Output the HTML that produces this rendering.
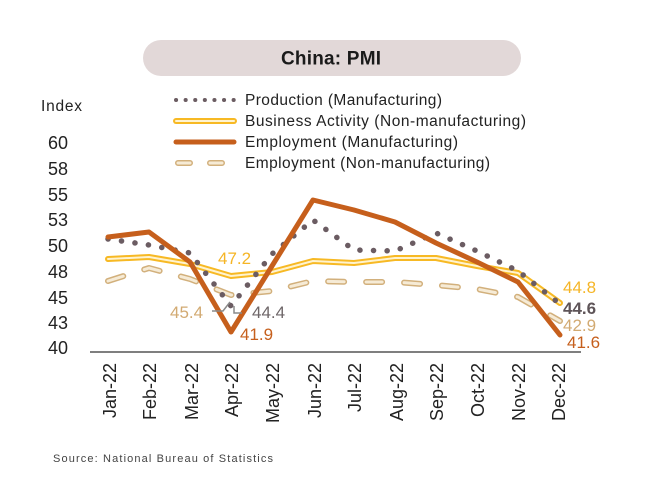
<!DOCTYPE html>
<html><head><meta charset="utf-8"><style>
html,body{margin:0;padding:0;background:#fff;}
svg{display:block;font-family:"Liberation Sans",sans-serif;}
</style></head><body>
<svg width="665" height="490" viewBox="0 0 665 490" xmlns="http://www.w3.org/2000/svg">
<rect width="665" height="490" fill="#fff"/>
<!-- title -->
<rect x="143" y="40" width="378" height="36" rx="18" fill="#e2d8d8"/>
<text x="331" y="64.5" text-anchor="middle" font-size="19" font-weight="bold" fill="#1a1a1a" textLength="100">China: PMI</text>
<!-- Index -->
<text x="41" y="111" font-size="15.5" fill="#222" textLength="41">Index</text>
<!-- legend -->
<line x1="176" y1="100" x2="234" y2="100" stroke="#6b5c62" stroke-width="4" stroke-linecap="round" stroke-dasharray="0.1 9.5"/>
<text x="245" y="105" font-size="15.5" fill="#222" textLength="197">Production (Manufacturing)</text>
<line x1="176" y1="121" x2="234" y2="121" stroke="#f7b924" stroke-width="6" stroke-linecap="round"/>
<line x1="176" y1="121" x2="234" y2="121" stroke="#fff3cf" stroke-width="2" stroke-linecap="round"/>
<text x="245" y="126" font-size="15.5" fill="#222" textLength="281">Business Activity (Non-manufacturing)</text>
<line x1="176" y1="142" x2="234" y2="142" stroke="#c65f1c" stroke-width="5" stroke-linecap="round"/>
<text x="245" y="147" font-size="15.5" fill="#222" textLength="213">Employment (Manufacturing)</text>
<line x1="178" y1="163" x2="226" y2="163" stroke="#d2b07c" stroke-width="6" stroke-linecap="round" stroke-dasharray="12 20"/>
<line x1="178" y1="163" x2="226" y2="163" stroke="#f6ebd6" stroke-width="3" stroke-linecap="round" stroke-dasharray="12 20"/>
<text x="245" y="168" font-size="15.5" fill="#222" textLength="245">Employment (Non-manufacturing)</text>
<!-- y labels -->
<g font-size="18" fill="#222" text-anchor="middle">
<text x="58" y="149">60</text>
<text x="58" y="175">58</text>
<text x="58" y="201">55</text>
<text x="58" y="226">53</text>
<text x="58" y="252">50</text>
<text x="58" y="278">48</text>
<text x="58" y="304">45</text>
<text x="58" y="329">43</text>
<text x="58" y="354">40</text>
</g>
<!-- axis -->
<line x1="90" y1="352" x2="581" y2="352" stroke="#555" stroke-width="1.5"/>
<!-- x labels -->
<g font-size="18" fill="#222" text-anchor="end">
<text transform="translate(116,363) rotate(-90)">Jan-22</text>
<text transform="translate(156,363) rotate(-90)">Feb-22</text>
<text transform="translate(198,363) rotate(-90)">Mar-22</text>
<text transform="translate(238,363) rotate(-90)">Apr-22</text>
<text transform="translate(279,363) rotate(-90)">May-22</text>
<text transform="translate(321,363) rotate(-90)">Jun-22</text>
<text transform="translate(361,363) rotate(-90)">Jul-22</text>
<text transform="translate(403,363) rotate(-90)">Aug-22</text>
<text transform="translate(443,363) rotate(-90)">Sep-22</text>
<text transform="translate(484,363) rotate(-90)">Oct-22</text>
<text transform="translate(525,363) rotate(-90)">Nov-22</text>
<text transform="translate(565,363) rotate(-90)">Dec-22</text>
</g>
<!-- dashed tan series -->
<polyline fill="none" stroke="#d2b07c" stroke-width="6" stroke-linecap="round" stroke-linejoin="round" stroke-dasharray="16 22"
 points="108,281 149,268 190,279 231,295 272,291 313,281 354,282 395,282 436,285 477,289 518,297 560,321"/>
<polyline fill="none" stroke="#f6ebd6" stroke-width="3" stroke-linecap="round" stroke-linejoin="round" stroke-dasharray="16 22"
 points="108,281 149,268 190,279 231,295 272,291 313,281 354,282 395,282 436,285 477,289 518,297 560,321"/>
<!-- yellow series -->
<polyline fill="none" stroke="#f7b924" stroke-width="6" stroke-linecap="round" stroke-linejoin="round"
 points="108,259 149,257 190,264 231,276 272,272 313,261 354,263 395,258 436,258 477,266 518,273 560,303"/>
<polyline fill="none" stroke="#fff3cf" stroke-width="2" stroke-linecap="round" stroke-linejoin="round"
 points="108,259 149,257 190,264 231,276 272,272 313,261 354,263 395,258 436,258 477,266 518,273 560,303"/>
<!-- dotted series -->
<polyline fill="none" stroke="#6b5c62" stroke-width="5.5" stroke-linecap="round" stroke-linejoin="round" stroke-dasharray="0.1 13.5"
 points="108,239 149,245 190,253 231,306 272,254 313,220 354,250 395,251 436,233 477,251 518,271 560,304"/>
<!-- orange series -->
<polyline fill="none" stroke="#c65f1c" stroke-width="5" stroke-linecap="round" stroke-linejoin="round"
 points="108,237 149,232 190,262 231,332 272,266 313,200 354,210 395,222 436,243 477,262 518,282 560,335"/>
<!-- leaders -->
<polyline fill="none" stroke="#8a8a8a" stroke-width="1.5" points="212,311 223,311 230,302"/>
<polyline fill="none" stroke="#8a8a8a" stroke-width="1.5" points="234,306 234,313 242,313"/>
<!-- data labels -->
<g font-size="17">
<text x="218" y="264" fill="#f5b526">47.2</text>
<text x="170" y="318" fill="#d2aa72">45.4</text>
<text x="252" y="318" fill="#6e6668">44.4</text>
<text x="240" y="340" fill="#c65f1c">41.9</text>
<text x="563" y="293" fill="#f5b526">44.8</text>
<text x="563" y="314" fill="#5e5458" font-weight="bold">44.6</text>
<text x="563" y="331" fill="#d2aa72">42.9</text>
<text x="567" y="348" fill="#c65f1c">41.6</text>
</g>
<!-- source -->
<text x="53" y="462" font-size="11" fill="#444" textLength="220">Source: National Bureau of Statistics</text>
</svg>
</body></html>
